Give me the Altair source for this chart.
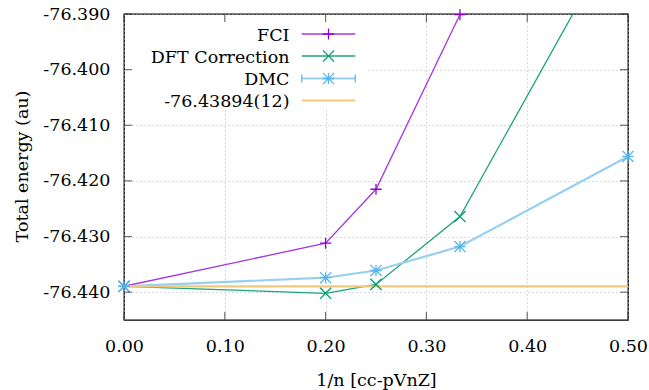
import altair as alt
import pandas as pd

# ---- data ----
x_fci = [0.0, 0.2, 0.25, 0.3333]
y_fci = [-76.43894, -76.4312, -76.4215, -76.3901]
x_dft = [0.0, 0.2, 0.25, 0.3333, 0.5]
y_dft = [-76.43894, -76.4402, -76.4386, -76.4264, -76.3722]
x_dmc = [0.0, 0.2, 0.25, 0.3333, 0.5]
y_dmc = [-76.43894, -76.4374, -76.4361, -76.4318, -76.4156]
ref_energy = [-76.43894]
x_ticks = [0.0, 0.1, 0.2, 0.3, 0.4, 0.5]
y_ticks = [-76.44, -76.43, -76.42, -76.41, -76.40, -76.39]
legend_labels = ["FCI", "DFT Correction", "DMC", "-76.43894(12)"]

W, H = 504, 306
FONT = "DejaVu Serif"
FS = 17.5
Y_TOP = -76.39

PLUS = "M-1,0L1,0M0,-1L0,1"
CROSS = "M-1,-1L1,1M-1,1L1,-1"
STAR = "M-1,0L1,0M0,-1L0,1M-1,-1L1,1M-1,1L1,-1"

series = [
    ("FCI", x_fci, y_fci, "#a535e0", "#9400D3", 1.3, PLUS),
    ("DFT Correction", x_dft, y_dft, "#1fa37a", "#009E73", 1.3, CROSS),
    ("DMC", x_dmc, y_dmc, "#96cff0", "#56B4E9", 2.2, STAR),
]
yellow = "#f2c97a"

xs = alt.Scale(domain=[0, 0.5], nice=False, zero=False)
ys = alt.Scale(domain=[-76.445, -76.39], nice=False, zero=False)

xaxis = alt.Axis(
    values=x_ticks, format=".2f", title="1/n [cc-pVnZ]",
    grid=True, gridDash=[1, 3], gridColor="#b4b4b4", gridWidth=1,
    ticks=False, tickSize=0, domain=False,
    labelFont=FONT, labelFontSize=FS, labelColor="black", labelPadding=17,
    labelFlush=False,
    titleFont=FONT, titleFontSize=FS, titleFontWeight="normal", titleColor="black",
    titleX=252, titleY=65, titleBaseline="alphabetic", titleAlign="center",
    zindex=0,
)
yaxis = alt.Axis(
    values=y_ticks, title="Total energy (au)",
    labelExpr="replace(format(datum.value, '.3f'), '\u2212', '-')",
    grid=True, gridDash=[1, 3], gridColor="#b4b4b4", gridWidth=1,
    ticks=False, tickSize=0, domain=False,
    labelFont=FONT, labelFontSize=FS, labelColor="black", labelPadding=14,
    labelFlush=False,
    titleFont=FONT, titleFontSize=FS, titleFontWeight="normal", titleColor="black",
    titleX=-97, titleY=152, titleAngle=-90, titleBaseline="alphabetic", titleAlign="center",
    zindex=0,
)

one = pd.DataFrame({"a": [0]})
layers = []

tick_df = pd.DataFrame({"x": x_ticks, "y": y_ticks})
layers.append(
    alt.Chart(tick_df).mark_point(opacity=0).encode(
        x=alt.X("x:Q", scale=xs, axis=xaxis), y=alt.Y("y:Q", scale=ys, axis=yaxis)
    )
)

layers.append(
    alt.Chart(one).mark_rect(color="white").encode(
        x=alt.value(1), x2=alt.value(242), y=alt.value(1), y2=alt.value(96)
    )
)

for name, xv, yv, lc, mc, lw, shp in series:
    df = pd.DataFrame({"x": xv, "y": yv})
    layers.append(
        alt.Chart(df).mark_line(color=lc, strokeWidth=lw, clip=True).encode(
            x=alt.X("x:Q", scale=xs, axis=xaxis), y=alt.Y("y:Q", scale=ys, axis=yaxis)
        )
    )

layers.append(
    alt.Chart(pd.DataFrame({"y": ref_energy})).mark_rule(color=yellow, strokeWidth=2.2).encode(
        y=alt.Y("y:Q", scale=ys, axis=yaxis)
    )
)

for name, xv, yv, lc, mc, lw, shp in series:
    df = pd.DataFrame({"x": xv, "y": yv})
    layers.append(
        alt.Chart(df).transform_filter(alt.datum.y <= Y_TOP + 0.0001).mark_point(
            shape=shp, filled=False, stroke=mc, strokeWidth=1.3, size=125, opacity=1
        ).encode(
            x=alt.X("x:Q", scale=xs, axis=xaxis), y=alt.Y("y:Q", scale=ys, axis=yaxis)
        )
    )

ydf = pd.DataFrame({"y": y_ticks})
xdf = pd.DataFrame({"x": x_ticks})
for xpos in (4, W - 4):
    layers.append(
        alt.Chart(ydf).mark_tick(color="#333333", size=8, thickness=1.2).encode(
            y=alt.Y("y:Q", scale=ys, axis=yaxis), x=alt.value(xpos)
        )
    )
for ypos in (4, H - 4):
    layers.append(
        alt.Chart(xdf).mark_tick(color="#333333", size=8, thickness=1.2).encode(
            x=alt.X("x:Q", scale=xs, axis=xaxis), y=alt.value(ypos)
        )
    )

rows = [20, 42, 64.5, 86.5]
key_colors = [(s[3], s[4], s[5], s[6]) for s in series] + [(yellow, None, 2.2, None)]
for label, ry, (lc, mc, lw, shp) in zip(legend_labels, rows, key_colors):
    layers.append(
        alt.Chart(one).mark_text(
            align="right", baseline="middle", font=FONT, fontSize=FS, color="black"
        ).encode(x=alt.value(165.5), y=alt.value(ry + 1.5), text=alt.value(label))
    )
    layers.append(
        alt.Chart(one).mark_rule(color=lc, strokeWidth=lw).encode(
            x=alt.value(177.8), x2=alt.value(231.2), y=alt.value(ry)
        )
    )
    if shp is not None:
        layers.append(
            alt.Chart(one).mark_point(
                shape=shp, filled=False, stroke=mc, strokeWidth=1.3, size=125, opacity=1
            ).encode(x=alt.value(204.5), y=alt.value(ry))
        )
    if label == "DMC":
        for cx in (177.8, 231.2):
            layers.append(
                alt.Chart(one).mark_rule(color=mc, strokeWidth=1.2).encode(
                    x=alt.value(cx), y=alt.value(ry - 4), y2=alt.value(ry + 4)
                )
            )

chart = (
    alt.layer(*layers)
    .properties(
        width=W, height=H,
        padding={"left": 124, "top": 14, "right": 649 - 124 - W, "bottom": 390 - 14 - H},
        autosize=alt.AutoSizeParams(type="none"),
        background="white",
    )
    .configure_view(stroke="black", strokeWidth=1.3)
)

chart.save("out.html", embed_options={"renderer": "svg", "actions": False})
